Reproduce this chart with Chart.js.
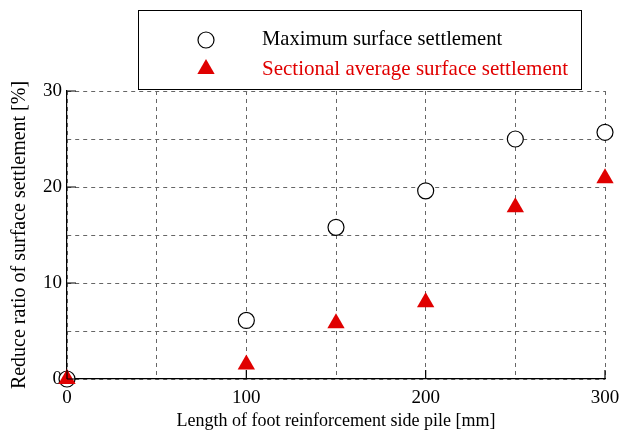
<!DOCTYPE html>
<html lang="en">
<head>
    <meta charset="UTF-8">
    <title>Reduce ratio of surface settlement</title>
    <script src="https://cdn.jsdelivr.net/npm/chart.js"></script>
    <style>
        html, body {
            margin: 0;
            padding: 0;
            background: #fff;
        }
    </style>
</head>
<body>
<canvas id="settlementChart" width="620" height="432"></canvas>

<script>
    // pile length [mm]
    const pileLength = [0, 100, 150, 200, 250, 300];
    // reduce ratio [%]
    const maxSettlement = [0, 6.1, 15.8, 19.6, 25.0, 25.7];
    const avgSettlement = [0, 1.5, 5.8, 8.0, 17.9, 20.9];

    const xMajorTicks = [0, 100, 200, 300];
    const yMajorTicks = [0, 10, 20, 30];

    const serif = '"Liberation Serif", "Times New Roman", serif';
    const red = '#e00000';

    function toPoints(values) {
        return pileLength.map((x, i) => ({x: x, y: values[i]}));
    }

    // short solid tick marks pointing into the plot
    const innerTicks = {
        id: 'innerTicks',
        afterDatasetsDraw(chart) {
            const {ctx, chartArea, scales} = chart;
            ctx.save();
            ctx.strokeStyle = '#000';
            ctx.lineWidth = 1.2;
            ctx.beginPath();
            xMajorTicks.forEach(v => {
                const px = scales.x.getPixelForValue(v);
                ctx.moveTo(px, chartArea.bottom);
                ctx.lineTo(px, chartArea.bottom - 9);
            });
            yMajorTicks.forEach(v => {
                const py = scales.y.getPixelForValue(v);
                ctx.moveTo(chartArea.left, py);
                ctx.lineTo(chartArea.left + 9, py);
            });
            ctx.stroke();
            ctx.restore();
        }
    };

    // boxed legend above the plot, two rows
    const boxLegend = {
        id: 'boxLegend',
        afterDraw(chart) {
            const ctx = chart.ctx;
            ctx.save();
            ctx.fillStyle = '#fff';
            ctx.fillRect(138, 10, 443, 79);
            ctx.strokeStyle = '#000';
            ctx.lineWidth = 1;
            ctx.strokeRect(138.5, 10.5, 443, 79);

            const rows = [chart.data.datasets[0], chart.data.datasets[1]];
            rows.forEach((ds, i) => {
                const cy = 40 + i * 29;
                ctx.beginPath();
                if (ds.pointStyle === 'triangle') {
                    const r = ds.pointRadius;
                    ctx.moveTo(206, cy - r);
                    ctx.lineTo(206 + r * Math.sin(Math.PI / 3), cy + r / 2);
                    ctx.lineTo(206 - r * Math.sin(Math.PI / 3), cy + r / 2);
                    ctx.closePath();
                    ctx.fillStyle = ds.backgroundColor;
                    ctx.fill();
                } else {
                    ctx.arc(206, cy, ds.pointRadius, 0, Math.PI * 2);
                    ctx.fillStyle = ds.backgroundColor;
                    ctx.fill();
                    ctx.lineWidth = ds.borderWidth;
                    ctx.strokeStyle = ds.borderColor;
                    ctx.stroke();
                }
                ctx.font = (i === 0 ? '20.6px ' : '21px ') + serif;
                ctx.textBaseline = 'middle';
                ctx.textAlign = 'left';
                ctx.fillStyle = ds.pointStyle === 'triangle' ? red : '#000';
                ctx.fillText(ds.label, 262, cy);
            });
            ctx.restore();
        }
    };

    new Chart(document.getElementById('settlementChart'), {
        type: 'scatter',
        data: {
            datasets: [{
                label: 'Maximum surface settlement',
                data: toPoints(maxSettlement),
                pointStyle: 'circle',
                pointRadius: 8,
                pointHoverRadius: 8,
                backgroundColor: '#fff',
                borderColor: '#000',
                borderWidth: 1.2,
                clip: false,
                order: 1
            }, {
                label: 'Sectional average surface settlement',
                data: toPoints(avgSettlement),
                pointStyle: 'triangle',
                pointRadius: 10,
                pointHoverRadius: 10,
                backgroundColor: red,
                borderColor: red,
                borderWidth: 0,
                clip: false,
                order: 0
            }]
        },
        options: {
            responsive: false,
            animation: false,
            events: [],
            layout: {
                padding: {top: 91, right: 15, left: 0, bottom: 0}
            },
            plugins: {
                legend: {display: false},
                tooltip: {enabled: false}
            },
            scales: {
                x: {
                    type: 'linear',
                    min: 0,
                    max: 300,
                    afterFit: scale => {
                        scale.height = 53;
                        scale.paddingLeft = 0;
                        scale.paddingRight = 0;
                    },
                    ticks: {
                        stepSize: 50,
                        autoSkip: false,
                        maxRotation: 0,
                        padding: 8,
                        color: '#000',
                        font: {family: serif, size: 19},
                        callback: v => xMajorTicks.includes(v) ? String(v) : ''
                    },
                    grid: {
                        color: '#666',
                        lineWidth: 1,
                        drawTicks: false
                    },
                    border: {
                        display: true,
                        color: '#000',
                        width: 1.2,
                        dash: [4, 4]
                    },
                    title: {
                        display: true,
                        text: 'Length of foot reinforcement side pile [mm]',
                        color: '#000',
                        font: {family: serif, size: 18},
                        padding: {top: 0, bottom: 0}
                    }
                },
                y: {
                    min: 0,
                    max: 30,
                    afterFit: scale => {
                        scale.width = 67;
                        scale.paddingTop = 0;
                        scale.paddingBottom = 0;
                    },
                    ticks: {
                        stepSize: 5,
                        autoSkip: false,
                        padding: 5,
                        color: '#000',
                        font: {family: serif, size: 19},
                        callback: v => yMajorTicks.includes(v) ? String(v) : ''
                    },
                    grid: {
                        color: '#666',
                        lineWidth: 1,
                        drawTicks: false
                    },
                    border: {
                        display: true,
                        color: '#000',
                        width: 1.2,
                        dash: [4, 4]
                    },
                    title: {
                        display: true,
                        text: 'Reduce ratio of surface settlement [%]',
                        color: '#000',
                        font: {family: serif, size: 20},
                        padding: {top: 8, bottom: 0}
                    }
                }
            }
        },
        plugins: [innerTicks, boxLegend]
    });
</script>
</body>
</html>
